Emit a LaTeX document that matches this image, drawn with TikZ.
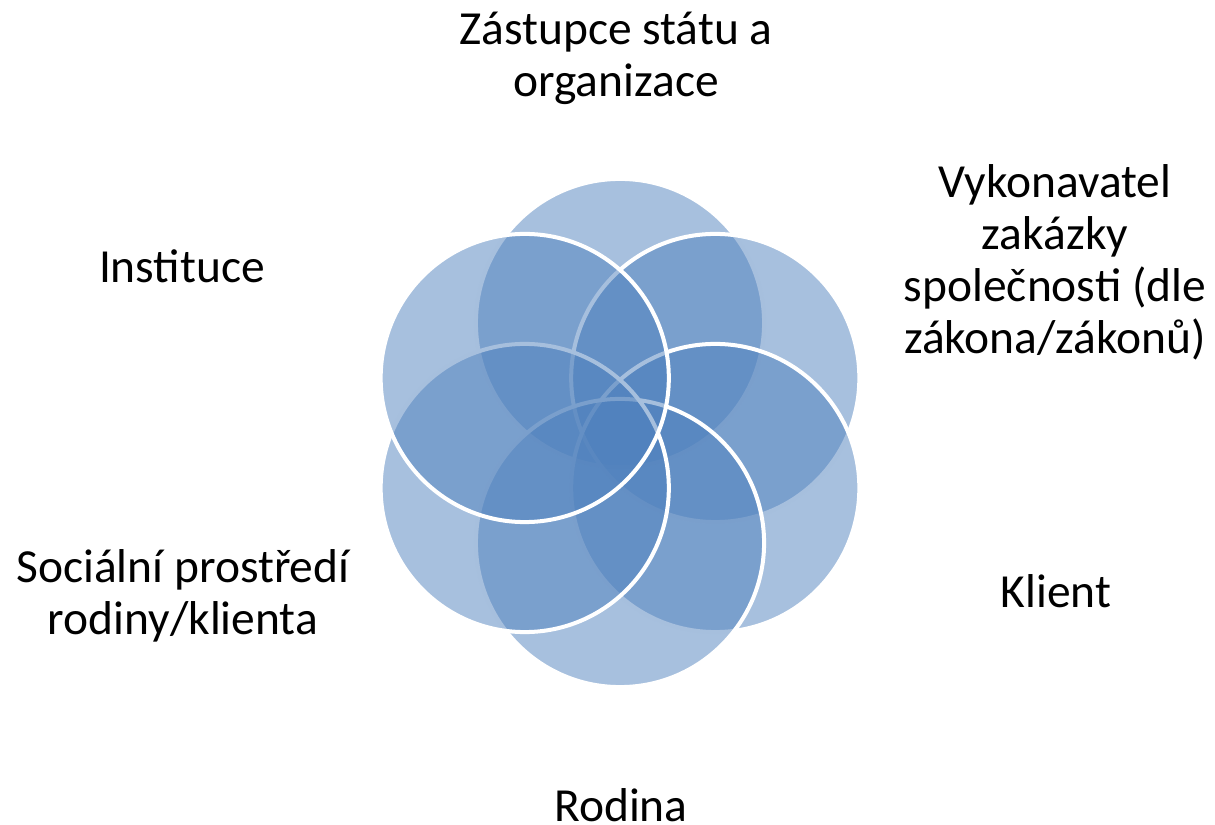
\documentclass[tikz,border=0pt]{standalone}
\usepackage{fontspec}
\setmainfont{Carlito}
\usetikzlibrary{calc}

\begin{document}
\begin{tikzpicture}[x=0.01cm,y=-0.01cm]

	\tikzset{petal/.style={circle,draw=white,line width=1.14pt,fill={rgb,255:red,79;green,129;blue,189},fill opacity=0.5,minimum size=2.88cm,inner sep=0pt},
		label/.style={font=\fontsize{13.5}{14.8}\selectfont,align=center,inner sep=0pt,anchor=base}}
	\useasboundingbox (0,0) rectangle (1215,825);

	\coordinate (mid) at (620,433);
	% petals, clockwise from the top
	\foreach \a [count=\i] in {-90,-30,30,90,150,210}
		\node[petal] (c\i) at ($(mid)+(\a:110)$) {};

	% labels (anchored at the last line)
	\node[label] (zastupce) at (616,97) {Zástupce státu a\\organizace};
	\node[label] (vykonavatel) at (1055,354) {Vykonavatel\\zakázky\\společnosti (dle\\zákona/zákonů)};
	\node[label] (klient) at (1056,608) {Klient};
	\node[label] (rodina) at (621,821) {Rodina};
	\node[label] (socialni) at (183,635) {Sociální prostředí\\rodiny/klienta};
	\node[label] (instituce) at (182,283) {Instituce};

\end{tikzpicture}
\end{document}
